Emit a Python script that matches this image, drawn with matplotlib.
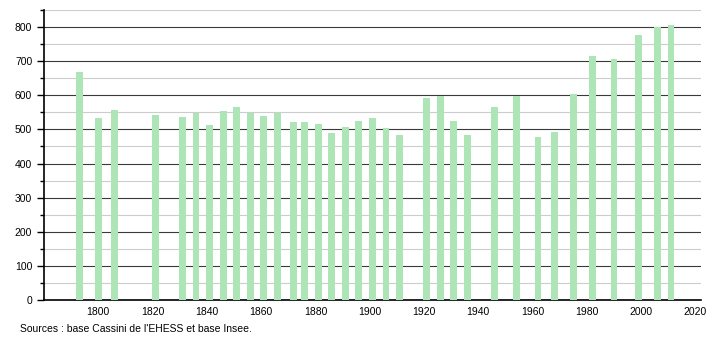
import numpy as np
import matplotlib.pyplot as plt
from matplotlib.ticker import MultipleLocator

plt.rcParams['font.family'] = ['Liberation Sans', 'DejaVu Sans']

years = [1793, 1800, 1806, 1821, 1831, 1836, 1841, 1846, 1851, 1856, 1861, 1866,
         1872, 1876, 1881, 1886, 1891, 1896, 1901, 1906, 1911, 1921, 1926, 1931,
         1936, 1946, 1954, 1962, 1968, 1975, 1982, 1990, 1999, 2006, 2011]
population = [668, 533, 556, 541, 535, 548, 512, 553, 565, 548, 538, 548,
              521, 521, 515, 489, 507, 524, 532, 504, 485, 591, 598, 524,
              483, 566, 598, 477, 491, 603, 715, 706, 777, 800, 806]
source_text = "Sources : base Cassini de l'EHESS et base Insee."

fig = plt.figure(figsize=(7.1, 3.4), dpi=100)
ax = fig.add_axes([0.062, 0.1176, 0.925, 0.853])

ax.bar(years, population, width=2.5, color='#aee5b6', zorder=3)

ax.set_xlim(1780, 2022)
ax.set_ylim(0, 850)
ax.set_xticks(range(1800, 2021, 20))
ax.yaxis.set_major_locator(MultipleLocator(100))
ax.yaxis.set_minor_locator(MultipleLocator(50))

ax.grid(axis='y', which='major', color='#3a3a3a', linewidth=0.8, zorder=1)
ax.grid(axis='y', which='minor', color='#cccccc', linewidth=0.8, zorder=1)

for s in ['top', 'right']:
    ax.spines[s].set_visible(False)
ax.spines['left'].set_linewidth(1.2)
ax.spines['bottom'].set_linewidth(1.2)

ax.tick_params(axis='y', which='major', length=5, width=1, labelsize=7.5, colors='black')
ax.tick_params(axis='y', which='minor', length=3, width=1)
ax.tick_params(axis='x', length=0, labelsize=7.5, pad=5)

fig.text(0.028, 0.018, source_text, fontsize=7.5, ha='left', va='bottom')

fig.savefig('out.png', dpi=100)
